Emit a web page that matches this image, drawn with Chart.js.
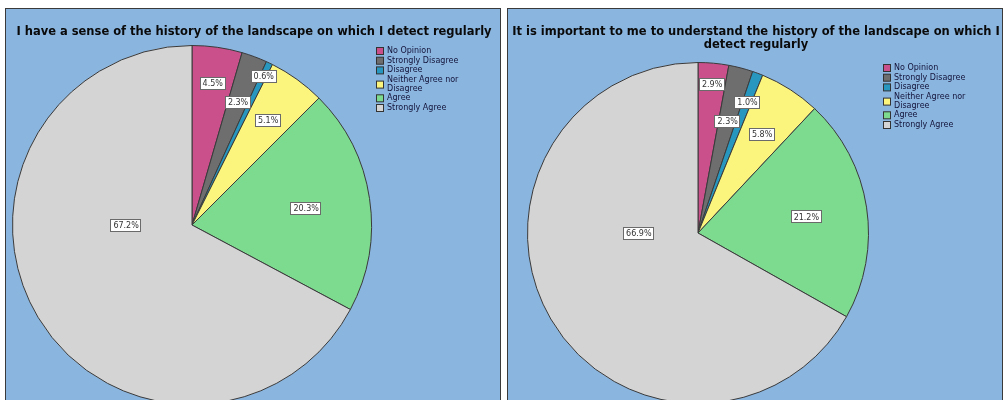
<!DOCTYPE html>
<html>
<head>
<meta charset="utf-8">
<script src="https://cdn.jsdelivr.net/npm/chart.js@4/dist/chart.umd.min.js"></script>
<style>
  body { margin: 0; background: #fff; width: 1004px; height: 400px; overflow: hidden; position: relative; }
  .panel { position: absolute; top: 8px; width: 494px; height: 420px; background: #8ab5df; border: 1px solid #3a3a3a; }
  #left { left: 5px; }
  #right { left: 507px; }
  canvas { display: block; }
</style>
</head>
<body>
<div class="panel" id="left"><canvas id="chartLeft" width="494" height="420"></canvas></div>
<div class="panel" id="right"><canvas id="chartRight" width="494" height="420"></canvas></div>
<script>
var categories = ["No Opinion", "Strongly Disagree", "Disagree", "Neither Agree nor Disagree", "Agree", "Strongly Agree"];
var colors = ["#c9508b", "#6e6e6e", "#2797bf", "#fbf47d", "#7ddb8f", "#d4d4d4"];

var leftTitle = "I have a sense of the history of the landscape on which I detect regularly";
var leftValues = [4.5, 2.3, 0.6, 5.1, 20.3, 67.2];

var rightTitle = "It is important to me to understand the history of the landscape on which I detect regularly";
var rightValues = [2.9, 2.3, 1.0, 5.8, 21.2, 66.9];

function wrap(ctx, text, maxWidth) {
	var words = text.split(" ");
	var lines = [];
	var line = "";
	for (let i = 0; i < words.length; i++) {
		var test = line ? line + " " + words[i] : words[i];
		if (line && ctx.measureText(test).width > maxWidth) {
			lines.push(line);
			line = words[i];
		} else {
			line = test;
		}
	}
	lines.push(line);
	return lines;
}

// title, legend and the boxed percent labels, drawn like the SPSS output
const spssDecor = {
	id: "spssDecor",
	afterDatasetsDraw: function (chart, args, opts) {
		const ctx = chart.ctx;
		ctx.save();

		// title
		ctx.font = "bold 11.5px 'DejaVu Sans'";
		ctx.fillStyle = "#0a0a0a";
		ctx.textAlign = "center";
		ctx.textBaseline = "middle";
		var tLines = wrap(ctx, opts.title, 490);
		tLines.forEach(function (l, i) {
			ctx.fillText(l, chart.width / 2 + 1, opts.titleY + i * 13);
		});

		// percent labels
		const meta = chart.getDatasetMeta(0);
		const values = chart.data.datasets[0].data;
		ctx.font = "8px 'DejaVu Sans'";
		meta.data.forEach(function (arc, i) {
			const p = arc.getProps(["x", "y", "startAngle", "endAngle", "outerRadius"], true);
			var a = opts.angles[i] != null ? opts.angles[i] : (p.startAngle + p.endAngle) / 2;
			var r = p.outerRadius * opts.radius[i];
			var x = p.x + Math.cos(a) * r;
			var y = p.y + Math.sin(a) * r;
			var txt = values[i].toFixed(1) + "%";
			var w = ctx.measureText(txt).width + 5;
			var h = 12;
			ctx.fillStyle = "#fff";
			ctx.fillRect(Math.round(x - w / 2) + 0.5, Math.round(y - h / 2) + 0.5, Math.round(w), h);
			ctx.strokeStyle = "#6a6a6a";
			ctx.lineWidth = 1;
			ctx.strokeRect(Math.round(x - w / 2) + 0.5, Math.round(y - h / 2) + 0.5, Math.round(w), h);
			ctx.fillStyle = "#333";
			ctx.fillText(txt, x + 0.5, y + 1);
		});

		// legend
		ctx.textAlign = "left";
		var ly = opts.legendY;
		chart.data.labels.forEach(function (lab, i) {
			var lines = wrap(ctx, lab, 88);
			var boxY = ly + (lines.length - 1) * 4.5;
			ctx.fillStyle = colors[i];
			ctx.fillRect(opts.legendX + 0.5, boxY - 3.5, 7, 7);
			ctx.strokeStyle = "#333";
			ctx.strokeRect(opts.legendX + 0.5, boxY - 3.5, 7, 7);
			ctx.fillStyle = "#14143a";
			lines.forEach(function (l, j) {
				ctx.fillText(l, opts.legendX + 11, ly + j * 8.5);
			});
			ly += 9.7 + (lines.length - 1) * 8.5;
		});

		ctx.restore();
	},
};

function makePie(id, values, title, decor, padding) {
	decor.title = title;
	return new Chart(document.getElementById(id), {
		type: "pie",
		data: {
			labels: categories,
			datasets: [
				{
					data: values,
					backgroundColor: colors,
					borderColor: "#3a3a3a",
					borderWidth: 1,
				},
			],
		},
		options: {
			responsive: false,
			animation: false,
			layout: { padding: padding },
			plugins: {
				legend: { display: false },
				tooltip: { enabled: false },
				spssDecor: decor,
			},
		},
		plugins: [spssDecor],
	});
}

makePie("chartLeft", leftValues, leftTitle,
	{ titleY: 23, legendX: 370, legendY: 42, radius: [0.8, 0.73, 0.92, 0.72, 0.64, 0.37], angles: [null, null, null, null, null, Math.PI] },
	{ left: 6, top: 36, right: 128, bottom: 24 });

makePie("chartRight", rightValues, rightTitle,
	{ titleY: 23, legendX: 375, legendY: 59, radius: [0.88, 0.68, 0.82, 0.69, 0.64, 0.35], angles: [null, null, null, null, null, Math.PI] },
	{ left: 19, top: 53, right: 133, bottom: 25 });
</script>
</body>
</html>
